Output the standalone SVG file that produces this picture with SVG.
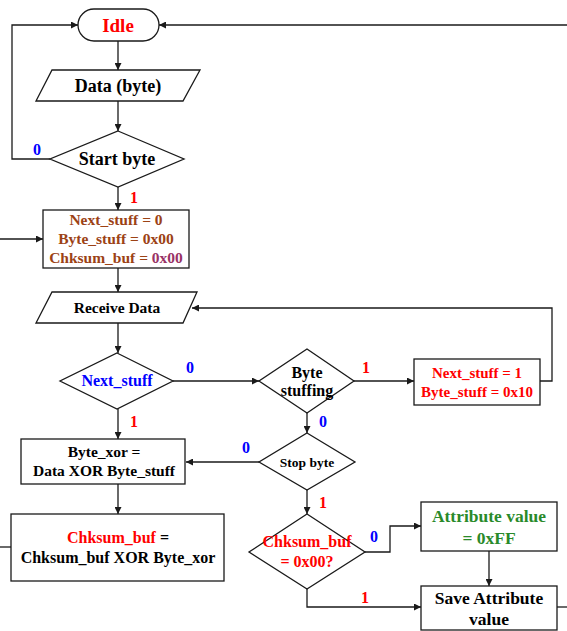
<svg xmlns="http://www.w3.org/2000/svg" width="567" height="631" viewBox="0 0 567 631">
  <style>
    text { font-family: "Liberation Serif", "Times New Roman", serif; font-weight: bold; text-anchor: middle; }
    .shape { fill: #ffffff; stroke: #1a1a1a; stroke-width: 1.3; }
    .wire { fill: none; stroke: #1a1a1a; stroke-width: 1.3; }
    .red { fill: #ff0000; }
    .blue { fill: #0000ff; }
    .brown { fill: #9c4215; }
    .purple { fill: #993366; }
    .green { fill: #2a8a2a; }
    .black { fill: #000000; }
    .lbl { font-size: 16px; }
  </style>
  <defs>
    <marker id="arrow" viewBox="0 0 10 10" refX="10" refY="5" markerWidth="7" markerHeight="7" markerUnits="userSpaceOnUse" orient="auto">
      <path d="M0,0 L10,5 L0,10 z" fill="#1a1a1a"/>
    </marker>
  </defs>

  <rect width="567" height="631" fill="#ffffff"/>

  <!-- connectors -->
  <g id="connectors">
    <line class="wire" x1="567" y1="25" x2="159" y2="25" marker-end="url(#arrow)"/>
    <polyline class="wire" points="50,159 12,159 12,25 78,25" marker-end="url(#arrow)"/>
    <line class="wire" x1="118" y1="41" x2="118" y2="70" marker-end="url(#arrow)"/>
    <line class="wire" x1="118" y1="101" x2="118" y2="131" marker-end="url(#arrow)"/>
    <line class="wire" x1="118" y1="187" x2="118" y2="210" marker-end="url(#arrow)"/>
    <line class="wire" x1="0" y1="239" x2="43" y2="239" marker-end="url(#arrow)"/>
    <line class="wire" x1="118" y1="268" x2="118" y2="292" marker-end="url(#arrow)"/>
    <line class="wire" x1="118" y1="323" x2="118" y2="353" marker-end="url(#arrow)"/>
    <line class="wire" x1="173" y1="381" x2="259" y2="381" marker-end="url(#arrow)"/>
    <line class="wire" x1="354" y1="381" x2="414" y2="381" marker-end="url(#arrow)"/>
    <polyline class="wire" points="540,381 552,381 552,308 192,308" marker-end="url(#arrow)"/>
    <line class="wire" x1="118" y1="409" x2="118" y2="439" marker-end="url(#arrow)"/>
    <line class="wire" x1="307" y1="413" x2="307" y2="433" marker-end="url(#arrow)"/>
    <line class="wire" x1="259" y1="462" x2="186" y2="462" marker-end="url(#arrow)"/>
    <line class="wire" x1="307" y1="490" x2="307" y2="514" marker-end="url(#arrow)"/>
    <line class="wire" x1="118" y1="484" x2="118" y2="514" marker-end="url(#arrow)"/>
    <line class="wire" x1="0" y1="547" x2="11" y2="547"/>
    <polyline class="wire" points="365,552 390,552 390,526 421,526" marker-end="url(#arrow)"/>
    <polyline class="wire" points="307,589 307,607 421,607" marker-end="url(#arrow)"/>
    <line class="wire" x1="489" y1="551" x2="489" y2="586" marker-end="url(#arrow)"/>
    <line class="wire" x1="557" y1="607" x2="567" y2="607"/>
  </g>

  <!-- branch labels -->
  <g id="labels" class="lbl">
    <text class="blue" x="37" y="155">0</text>
    <text class="red" x="134" y="203">1</text>
    <text class="blue" x="190" y="373">0</text>
    <text class="red" x="366" y="373">1</text>
    <text class="blue" x="323" y="427">0</text>
    <text class="red" x="134" y="427">1</text>
    <text class="blue" x="246" y="453">0</text>
    <text class="red" x="323" y="508">1</text>
    <text class="blue" x="374" y="542">0</text>
    <text class="red" x="365" y="603">1</text>
  </g>

  <g id="idle">
    <rect class="shape" x="78" y="9" width="81" height="32" rx="16" ry="16"/>
    <text class="red" x="118" y="32" font-size="19">Idle</text>
  </g>

  <g id="data-byte">
    <polygon class="shape" points="52,70 200,70 183,101 36,101"/>
    <text class="black" x="118" y="92" font-size="18">Data (byte)</text>
  </g>

  <g id="start-byte">
    <polygon class="shape" points="118,131 184,159 118,187 50,159"/>
    <text class="black" x="117" y="165" font-size="18">Start byte</text>
  </g>

  <g id="init">
    <rect class="shape" x="43" y="210" width="146" height="58"/>
    <text class="brown" x="116" y="225" font-size="15.5">Next_stuff = 0</text>
    <text class="brown" x="116" y="244" font-size="15.5">Byte_stuff = 0x00</text>
    <text x="116" y="263" font-size="15.5"><tspan class="brown">Chksum_buf = </tspan><tspan class="purple">0x00</tspan></text>
  </g>

  <g id="receive-data">
    <polygon class="shape" points="52,292 197,292 183,323 36,323"/>
    <text class="black" x="117" y="313" font-size="15.5">Receive Data</text>
  </g>

  <g id="next-stuff">
    <polygon class="shape" points="117,353 173,381 117,409 60,381"/>
    <text class="blue" x="117" y="386" font-size="16">Next_stuff</text>
  </g>

  <g id="byte-stuffing">
    <polygon class="shape" points="307,349 354,381 307,413 259,381"/>
    <text class="black" x="307" y="378" font-size="16">Byte</text>
    <text class="black" x="307" y="396" font-size="16">stuffing</text>
  </g>

  <g id="set-stuff">
    <rect class="shape" x="414" y="359" width="126" height="46"/>
    <text class="red" x="477" y="378" font-size="15">Next_stuff = 1</text>
    <text class="red" x="477" y="397" font-size="15">Byte_stuff = 0x10</text>
  </g>

  <g id="stop-byte">
    <polygon class="shape" points="307,433 355,462 307,490 259,462"/>
    <text class="black" x="307" y="467" font-size="13.5">Stop byte</text>
  </g>

  <g id="byte-xor">
    <rect class="shape" x="21" y="439" width="164" height="45"/>
    <text class="black" x="104" y="457" font-size="15.5">Byte_xor =</text>
    <text class="black" x="104" y="476" font-size="15.5">Data XOR Byte_stuff</text>
  </g>

  <g id="chksum-update">
    <rect class="shape" x="11" y="514" width="213" height="67"/>
    <text x="118" y="543" font-size="16"><tspan class="red">Chksum_buf</tspan><tspan class="black"> =</tspan></text>
    <text class="black" x="118" y="563" font-size="16">Chksum_buf XOR Byte_xor</text>
  </g>

  <g id="chksum-check">
    <polygon class="shape" points="307,514 365,552 307,589 249,552"/>
    <text class="red" x="307" y="547" font-size="16">Chksum_buf</text>
    <text class="red" x="307" y="567" font-size="16">= 0x00?</text>
  </g>

  <g id="attr-ff">
    <rect class="shape" x="421" y="502" width="136" height="49"/>
    <text class="green" x="489" y="522" font-size="17.5">Attribute value</text>
    <text class="green" x="489" y="544" font-size="17.5">= 0xFF</text>
  </g>

  <g id="save-attr">
    <rect class="shape" x="421" y="586" width="136" height="44"/>
    <text class="black" x="489" y="604" font-size="17.5">Save Attribute</text>
    <text class="black" x="489" y="625" font-size="17.5">value</text>
  </g>
</svg>
